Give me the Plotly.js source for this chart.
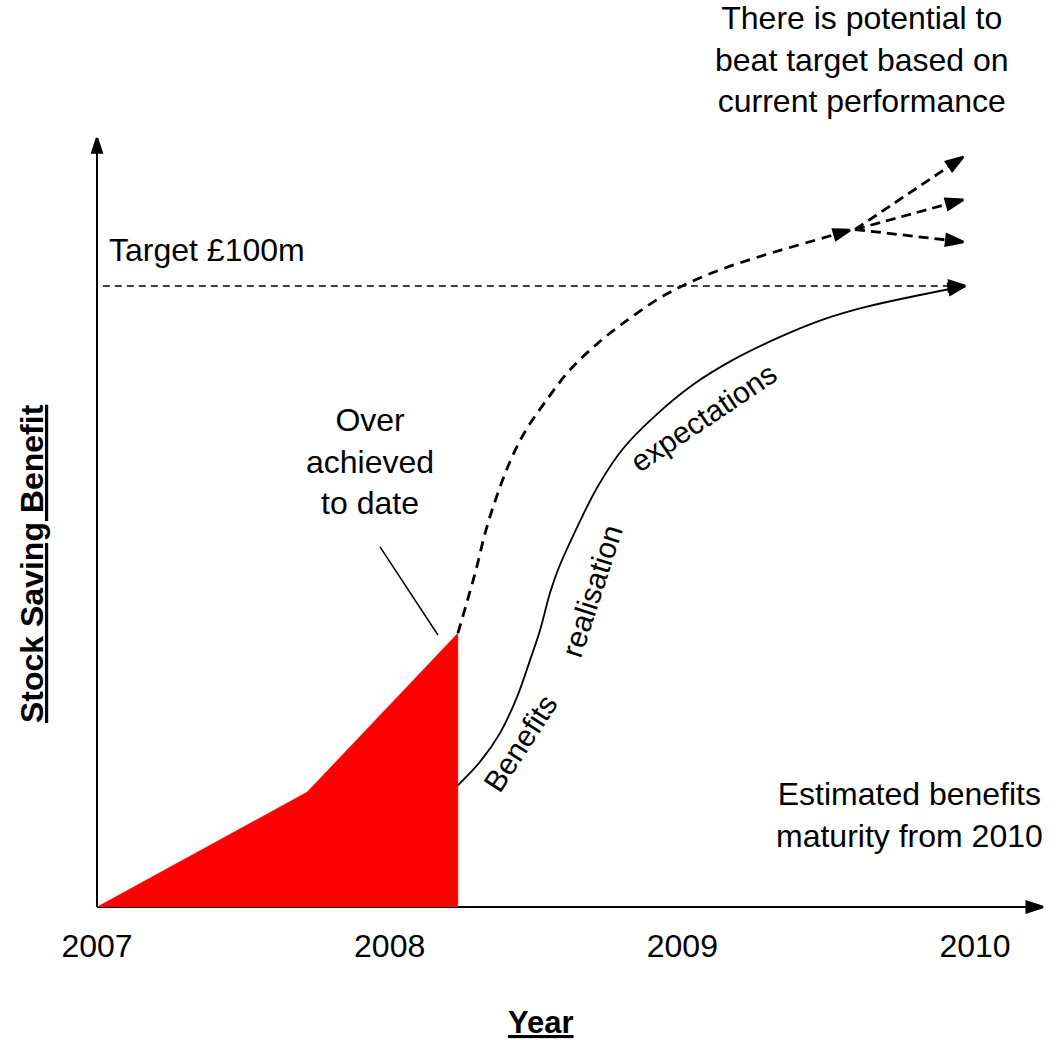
<!DOCTYPE html>
<html>
<head>
<meta charset="utf-8">
<script src="https://cdn.plot.ly/plotly-3.0.1.min.js"></script>
<style>
  html, body { margin: 0; padding: 0; background: #ffffff; }
  #chart { width: 1058px; height: 1040px; }
</style>
</head>
<body>
<div id="chart"></div>
<script>
// Time axis ticks
const yearTicks = [2007, 2008, 2009, 2010];
const yearLabels = ['2007', '2008', '2009', '2010'];

// Target stock saving (£m)
const targetBenefit = 100;
const targetYears = [2007.02, 2009.966];

// Benefit achieved to date (£m)
const achievedYears = [2007, 2007.718, 2008.233, 2008.233];
const achievedBenefit = [0, 18.5, 44.1, 0];

// Projection from current performance (£m)
const expectedYears = [2008.233, 2008.261, 2008.295, 2008.329, 2008.367, 2008.411, 2008.462,
  2008.531, 2008.616, 2008.719, 2008.821, 2008.924, 2009.026, 2009.146, 2009.282, 2009.419, 2009.573];
const expectedBenefit = [44.1, 48.6, 54.3, 60.7, 66.3, 71.7, 76.5,
  81.3, 86.5, 91.1, 94.8, 98.1, 100.6, 102.9, 105.0, 106.9, 109.0];

// Possible outcomes beyond the projection (£m)
const outcomeStartYear = 2009.59;
const outcomeStartBenefit = 109.1;
const outcomeEndYear = 2009.96;
const outcomeEndBenefit = [120.8, 113.9, 107.1];

// Benefits realisation expectations (£m)
const realisationYears = [2008.233, 2008.309, 2008.377, 2008.435, 2008.480, 2008.514, 2008.548,
  2008.575, 2008.644, 2008.712, 2008.797, 2008.907, 2009.036, 2009.173, 2009.334, 2009.487, 2009.624, 2009.966];
const realisationBenefit = [19.6, 23.4, 28.0, 33.8, 39.8, 44.6, 50.6,
  54.3, 61.5, 67.8, 73.8, 79.1, 84.1, 88.1, 91.8, 94.7, 96.6, 100];

// Axis extents
const axisEndYear = 2010.232;
const axisTopBenefit = 123.8;

const W = 1058, H = 1040;
const originPx = [97, 907];
const pxPerYear = 292.67;
const pxPerUnit = 6.21;
const xRange = [2007 - originPx[0] / pxPerYear, 2007 + (W - originPx[0]) / pxPerYear];
const yRange = [-(H - originPx[1]) / pxPerUnit, originPx[1] / pxPerUnit];

const FONT = 'Liberation Sans, Arial, Helvetica, sans-serif';
const INK = '#000000';

// Line with an arrowhead on its last point
function arrowLine(xs, ys, width, dash, head) {
  return {
    type: 'scatter',
    mode: 'lines+markers',
    x: xs,
    y: ys,
    hoverinfo: 'skip',
    line: { color: INK, width: width, dash: dash, shape: xs.length > 2 ? 'spline' : 'linear', smoothing: 1 },
    marker: {
      symbol: 'arrow',
      angleref: 'previous',
      size: xs.map((_, i) => (i === xs.length - 1 ? head : 0)),
      color: INK,
      opacity: 1,
      line: { color: INK, width: 2.5 }
    }
  };
}

const traces = [
  // axes
  arrowLine([2007, axisEndYear], [0, 0], 2, 'solid', 17),
  arrowLine([2007, 2007], [0, axisTopBenefit], 2, 'solid', 15),
  // target
  arrowLine(targetYears, [targetBenefit, targetBenefit], 1.6, '7px,5px', 17),
  // achieved to date
  {
    type: 'scatter',
    mode: 'lines',
    x: achievedYears,
    y: achievedBenefit,
    fill: 'toself',
    fillcolor: '#ff0000',
    line: { color: '#ff0000', width: 0.5 },
    hoverinfo: 'skip'
  },
  // realisation expectations
  arrowLine(realisationYears, realisationBenefit, 1.8, 'solid', 17),
  // projection
  arrowLine(expectedYears, expectedBenefit, 2.8, '10px,7px', 17)
];

outcomeEndBenefit.forEach(v => {
  traces.push(arrowLine([outcomeStartYear, outcomeEndYear], [outcomeStartBenefit, v], 2.8, '10px,6px', 18));
});

function note(text, x, y, opts) {
  return Object.assign({
    text: text, x: x, y: y, xref: 'x', yref: 'y',
    showarrow: false, xanchor: 'center', yanchor: 'middle',
    font: { family: FONT, size: 32, color: INK }
  }, opts || {});
}

const annotations = [
  note('There is potential to<br>beat target based on<br>current performance', 2009.614, 136.4),
  note('Target £100m', 2007.033, 105.8, { xanchor: 'left' }),
  note('Over<br>achieved<br>to date', 2007.933, 71.7),
  note('Estimated benefits<br>maturity from 2010', 2009.775, 14.8),
  note('Benefits', 2008.445, 26.4, { textangle: -57, font: { family: FONT, size: 30, color: INK } }),
  note('realisation', 2008.691, 51.0, { textangle: -72, font: { family: FONT, size: 30, color: INK } }),
  note('expectations', 2009.071, 78.9, { textangle: -34, font: { family: FONT, size: 30, color: INK } }),
  {
    text: '<b><u>Stock Saving Benefit</u></b>',
    xref: 'paper', yref: 'paper', x: 32 / W, y: 1 - 564 / H,
    showarrow: false, textangle: -90, xanchor: 'center', yanchor: 'middle',
    font: { family: FONT, size: 32, color: INK }
  },
  {
    text: '<b><u>Year</u></b>',
    xref: 'paper', yref: 'paper', x: 541 / W, y: 1 - 1022 / H,
    showarrow: false, xanchor: 'center', yanchor: 'middle',
    font: { family: FONT, size: 31, color: INK }
  }
];

const layout = {
  width: W,
  height: H,
  margin: { l: 0, r: 0, t: 0, b: 0, pad: 0 },
  paper_bgcolor: '#ffffff',
  plot_bgcolor: '#ffffff',
  showlegend: false,
  xaxis: {
    range: xRange,
    showgrid: false,
    zeroline: false,
    showline: false,
    tickmode: 'array',
    tickvals: yearTicks,
    ticktext: yearLabels,
    ticks: 'outside',
    ticklen: 11,
    tickcolor: 'rgba(0,0,0,0)',
    tickfont: { family: FONT, size: 32, color: INK },
    anchor: 'free',
    position: (H - originPx[1]) / H,
    fixedrange: true
  },
  yaxis: {
    range: yRange,
    visible: false,
    fixedrange: true
  },
  shapes: [
    // callout to the achieved peak
    { type: 'line', xref: 'x', yref: 'y', x0: 2007.967, y0: 58.0, x1: 2008.165, y1: 43.8,
      line: { color: INK, width: 1.5 } }
  ],
  annotations: annotations
};

Plotly.newPlot('chart', traces, layout, { staticPlot: true, displayModeBar: false });
</script>
</body>
</html>
